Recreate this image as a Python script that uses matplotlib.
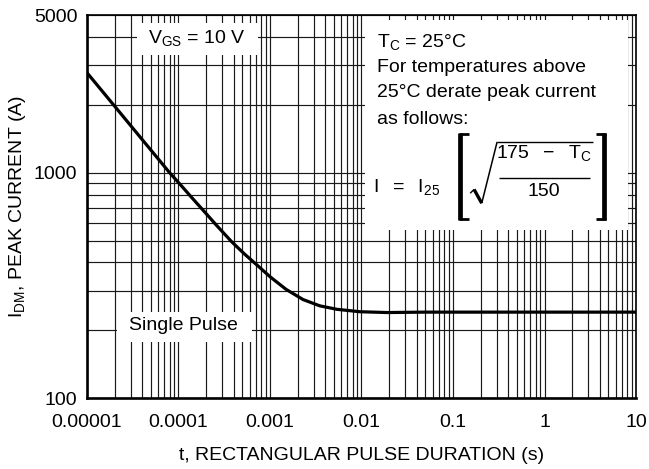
import matplotlib
matplotlib.use("Agg")
import matplotlib.pyplot as plt
from matplotlib.patches import Rectangle
from matplotlib.ticker import FixedLocator, NullFormatter

plt.rcParams['font.family'] = ['Liberation Sans', 'DejaVu Sans']
plt.rcParams['mathtext.fontset'] = 'custom'
plt.rcParams['mathtext.rm'] = 'Liberation Sans'
plt.rcParams['mathtext.it'] = 'Liberation Sans'
plt.rcParams['mathtext.bf'] = 'Liberation Sans:bold'

# ---- data ----
t_pulse = [1e-5, 2e-5, 4e-5, 8e-5, 1.05e-4, 1.4e-4, 1.9e-4, 2.6e-4,
           3.8e-4, 5.3e-4, 7.2e-4, 1.0e-3, 1.5e-3, 2.3e-3, 3.5e-3,
           5.4e-3, 9.6e-3, 1.9e-2, 5e-2, 0.2, 1, 10]
i_peak = [2775, 1975, 1405, 1000, 885, 775, 675, 585,
          495, 435, 390, 346, 304, 274, 257,
          248, 242, 240, 241, 241, 241, 241]

x_ticks = [1e-5, 1e-4, 1e-3, 1e-2, 1e-1, 1, 10]
x_labels = ["0.00001", "0.0001", "0.001", "0.01", "0.1", "1", "10"]
y_ticks = [100, 1000, 5000]
y_labels = ["100", "1000", "5000"]

FS = 14

fig = plt.figure(figsize=(6.49, 4.69), dpi=100)
ax = fig.add_axes([0.134, 0.1507, 0.846, 0.8173])

ax.plot(t_pulse, i_peak, color="black", lw=2.3, zorder=5,
        solid_joinstyle="round")

ax.set_xscale("log")
ax.set_yscale("log")
ax.set_xlim(1e-5, 10)
ax.set_ylim(100, 5000)

ax.set_xticks(x_ticks)
ax.set_xticklabels(x_labels)
ax.set_yticks(y_ticks)
ax.set_yticklabels(y_labels)

xminor = [m * d for d in x_ticks[:-1] for m in range(2, 10)]
yminor = [m * 100 for m in range(2, 10)] + [2000, 3000, 4000]
ax.xaxis.set_minor_locator(FixedLocator(xminor))
ax.yaxis.set_minor_locator(FixedLocator(yminor))
ax.xaxis.set_minor_formatter(NullFormatter())
ax.yaxis.set_minor_formatter(NullFormatter())

ax.tick_params(which="both", length=0, labelsize=FS)
ax.tick_params(axis="x", pad=11)
ax.tick_params(axis="y", pad=7)
ax.grid(True, which="both", color="#1a1a1a", lw=0.85)
ax.set_axisbelow(True)

for name, s in ax.spines.items():
    s.set_linewidth(1.9 if name in ("left", "bottom") else 1.2)
    s.set_zorder(6)

ax.set_xlabel("t, RECTANGULAR PULSE DURATION (s)", fontsize=FS)
ax.xaxis.set_label_coords(0.5, -0.148)
ax.xaxis.label.set_va("center")
ax.set_ylabel(r"$\mathregular{I_{DM}}$, PEAK CURRENT (A)", fontsize=FS)
ax.yaxis.set_label_coords(-0.127, 0.5)
ax.yaxis.label.set_va("center")

# white label boxes
boxes = [(0.091, 0.896, 0.220, 0.083),
         (0.506, 0.439, 0.479, 0.548),
         (0.055, 0.147, 0.245, 0.078)]
for bx, by, bw, bh in boxes:
    ax.add_patch(Rectangle((bx, by), bw, bh, transform=ax.transAxes,
                           facecolor="white", edgecolor="none", zorder=3))

ax.text(0.200, 0.940, r"$\mathregular{V_{GS}}$ = 10 V", transform=ax.transAxes,
        ha="center", va="center", fontsize=FS, zorder=7)
ax.text(0.176, 0.189, "Single Pulse", transform=ax.transAxes,
        ha="center", va="center", fontsize=FS, zorder=7)

lines = [r"$\mathregular{T_C}$ = 25°C", "For temperatures above",
         "25°C derate peak current", "as follows:"]
ys = [0.917, 0.851, 0.785, 0.716]
for txt, yy in zip(lines, ys):
    ax.text(0.528, yy, txt, transform=ax.transAxes, ha="left",
            va="baseline", fontsize=FS, zorder=7)

# derating formula, built from text pieces and strokes
tr = ax.transAxes
ax.text(0.521, 0.538, r"$\mathregular{I\ \ =\ \ I_{25}}$", transform=tr,
        ha="left", va="baseline", fontsize=FS, zorder=7)
ax.text(0.832, 0.627, r"$\mathregular{175\ \ -\ \ T_C}$", transform=tr,
        ha="center", va="baseline", fontsize=FS, zorder=7)
ax.text(0.832, 0.527, "150", transform=tr,
        ha="center", va="baseline", fontsize=FS, zorder=7)


def stroke(xs, ys, lw):
    ax.plot(xs, ys, color="black", lw=lw, transform=tr, clip_on=False,
            zorder=7, solid_capstyle="butt")


# left bracket
stroke([0.680, 0.680], [0.465, 0.692], 3.4)
stroke([0.6775, 0.695], [0.690, 0.690], 2.0)
stroke([0.6775, 0.695], [0.467, 0.467], 2.0)
# right bracket
stroke([0.942, 0.942], [0.465, 0.692], 3.4)
stroke([0.927, 0.9445], [0.690, 0.690], 2.0)
stroke([0.927, 0.9445], [0.467, 0.467], 2.0)
# radical sign
stroke([0.698, 0.705], [0.535, 0.545], 1.0)
stroke([0.705, 0.719], [0.545, 0.509], 2.4)
stroke([0.719, 0.747], [0.509, 0.669], 1.1)
stroke([0.747, 0.921], [0.669, 0.669], 1.0)
# fraction bar
stroke([0.750, 0.916], [0.574, 0.574], 1.0)

fig.savefig("out.png", dpi=100)
